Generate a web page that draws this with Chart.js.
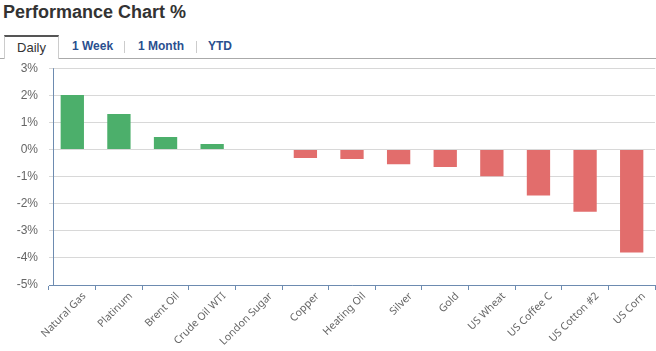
<!DOCTYPE html>
<html>
<head>
<meta charset="utf-8">
<script src="https://cdn.jsdelivr.net/npm/chart.js@4.4.1/dist/chart.umd.min.js"></script>
<style>
  body { margin: 0; width: 656px; height: 351px; background: #fff; font-family: "Liberation Sans", Arial, sans-serif; position: relative; overflow: hidden; }
  .title { position: absolute; left: 3px; top: 2px; font-size: 18px; font-weight: bold; color: #333; }
  .tabs { position: absolute; left: 0; top: 35px; width: 656px; height: 23px; border-bottom: 1px solid #aaa; }
  .tab { position: absolute; top: 0; height: 22px; line-height: 22px; font-size: 12px; font-weight: bold; color: #2a4f8f; }
  .tab.active { left: 4px; width: 53px; border-top: 2px solid #555; border-left: 1px solid #ccc; border-right: 1px solid #ccc; background: #fff; height: 22px; color: #333; text-align: center; font-weight: normal; font-size: 13px; line-height: 21px; }
  .sep { position: absolute; top: 6px; width: 1px; height: 12px; background: #ccc; }
  #wrap { position: absolute; left: 0; top: 50px; width: 656px; height: 301px; }
</style>
</head>
<body>
<div class="title">Performance Chart %</div>
<div class="tabs">
  <div class="tab active">Daily</div>
  <div class="tab" style="left:72px">1 Week</div>
  <div class="sep" style="left:124px"></div>
  <div class="tab" style="left:138px">1 Month</div>
  <div class="sep" style="left:196px"></div>
  <div class="tab" style="left:208px">YTD</div>
</div>
<div id="wrap"><canvas id="perfChart"></canvas></div>
<script>
const categories = ["Natural Gas", "Platinum", "Brent Oil", "Crude Oil WTI", "London Sugar", "Copper",
  "Heating Oil", "Silver", "Gold", "US Wheat", "US Coffee C", "US Cotton #2", "US Corn"];
const dailyChange = [2.01, 1.31, 0.46, 0.20, 0, -0.31, -0.35, -0.54, -0.65, -0.99, -1.70, -2.30, -3.80];
const yTicks = [-5, -4, -3, -2, -1, 0, 1, 2, 3];

const barColors = dailyChange.map(v => v >= 0 ? "#4caf6b" : "#e26d6c");

// vertical axis line sits a few px right of the plot edge, like the original
const yAxisLine = {
  id: "yAxisLine",
  afterDraw(chart) {
    const { ctx, chartArea } = chart;
    ctx.save();
    ctx.strokeStyle = "#6d8bb0";
    ctx.lineWidth = 1;
    ctx.beginPath();
    ctx.moveTo(chartArea.left + 4.5, chartArea.top);
    ctx.lineTo(chartArea.left + 4.5, chartArea.bottom);
    ctx.stroke();
    ctx.restore();
  }
};

const ctx = document.getElementById("perfChart").getContext("2d");
new Chart(ctx, {
  type: "bar",
  data: {
    labels: categories,
    datasets: [{
      data: dailyChange,
      backgroundColor: barColors,
      borderWidth: 0,
      barPercentage: 0.5,
      categoryPercentage: 1
    }]
  },
  options: {
    responsive: true,
    maintainAspectRatio: false,
    animation: false,
    layout: { padding: { top: 8, right: 1, left: 0, bottom: 0 } },
    plugins: { legend: { display: false }, tooltip: { enabled: false } },
    scales: {
      x: {
        offset: true,
        grid: { display: true, drawOnChartArea: false, drawTicks: true, tickLength: 5, offset: true, color: "#6d8bb0" },
        border: { color: "#6d8bb0" },
        ticks: {
          color: "#666",
          font: { family: "Noto Sans", size: 10.5 },
          maxRotation: 45,
          minRotation: 45,
          autoSkip: false,
          labelOffset: 12,
          padding: 0
        },
        afterFit(scale) { scale.height = 66; }
      },
      y: {
        min: -5,
        max: 3,
        afterBuildTicks(scale) { scale.ticks = yTicks.map(v => ({ value: v })); },
        grid: { color: "#d8d8d8", drawTicks: false },
        border: { display: false },
        ticks: {
          color: "#666",
          font: { family: "Liberation Sans", size: 12 },
          padding: 11,
          callback: v => v + "%"
        },
        afterFit(scale) { scale.width = 49; }
      }
    }
  },
  plugins: [yAxisLine]
});
</script>
</body>
</html>
